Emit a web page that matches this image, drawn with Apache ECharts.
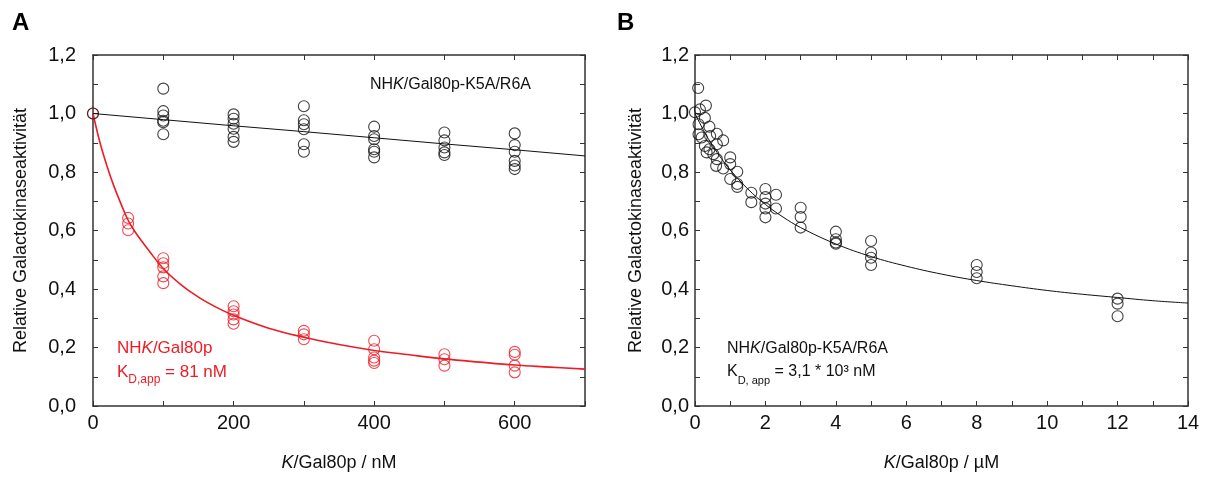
<!DOCTYPE html>
<html>
<head>
<meta charset="utf-8">
<script src="https://cdn.jsdelivr.net/npm/echarts@6/dist/echarts.min.js"></script>
<style>
  html, body { margin: 0; padding: 0; background: #fff; }
  #chart { width: 1207px; height: 477px; }
</style>
</head>
<body>
<div id="chart"></div>
<script>
// Panel A: NHK/Gal80p (red) and NHK/Gal80p-K5A/R6A (black), x in nM
var wtA_x = [0, 50, 50, 50, 100, 100, 100, 100, 100, 200, 200, 200, 200, 200,
             300, 300, 300, 400, 400, 400, 400, 400, 500, 500, 500, 600, 600, 600, 600];
var wtA_y = [1.0, 0.643, 0.624, 0.601, 0.505, 0.488, 0.474, 0.443, 0.420, 0.341, 0.324, 0.313, 0.296, 0.281,
             0.257, 0.245, 0.228, 0.223, 0.194, 0.166, 0.155, 0.147, 0.177, 0.160, 0.138, 0.185, 0.175, 0.138, 0.115];
var mutA_x = [0, 100, 100, 100, 100, 100, 100, 200, 200, 200, 200, 200, 200,
              300, 300, 300, 300, 300, 300, 400, 400, 400, 400, 400, 400,
              500, 500, 500, 500, 500, 600, 600, 600, 600, 600, 600];
var mutA_y = [1.0, 1.085, 1.008, 0.993, 0.975, 0.970, 0.929, 0.997, 0.982, 0.965, 0.948, 0.920, 0.903,
              1.025, 0.977, 0.963, 0.946, 0.895, 0.869, 0.955, 0.923, 0.912, 0.878, 0.869, 0.850,
              0.935, 0.908, 0.884, 0.867, 0.858, 0.932, 0.892, 0.869, 0.838, 0.822, 0.810];
// fit curves
var fitWtA_x = [0, 10, 20, 30, 40, 50, 60, 80, 100, 125, 150, 175, 200, 250, 300, 350, 400, 450, 500, 550, 600, 650, 700];
var fitWtA_y = [1.0, 0.90, 0.82, 0.75, 0.69, 0.635, 0.595, 0.53, 0.47, 0.415, 0.372, 0.338, 0.31, 0.266, 0.235, 0.21, 0.19, 0.175, 0.161, 0.15, 0.14, 0.133, 0.126];
var fitMutA_x = [0, 100, 200, 300, 400, 500, 600, 700];
var fitMutA_y = [1.0, 0.979, 0.958, 0.938, 0.917, 0.896, 0.876, 0.855];

// Panel B: NHK/Gal80p-K5A/R6A, x in µM
var mutB_x = [0.09, 0, 0.14, 0.31, 0.28, 0.1, 0.41, 0.1, 0.19, 0.43, 0.62, 0.80, 0.28, 0.41, 0.33, 0.52,
              0.62, 0.62, 0.60, 0.80, 1.0, 1.0, 1.2, 1.0, 1.2, 1.2, 1.6, 1.6,
              2.0, 2.0, 2.0, 2.0, 2.0, 2.3, 2.3, 3.0, 3.0, 3.0,
              4.0, 4.0, 4.0, 4.0, 5.0, 5.0, 5.0, 5.0, 8.0, 8.0, 8.0, 12.0, 12.0, 12.0];
var mutB_y = [1.087, 1.004, 1.014, 1.027, 0.985, 0.963, 0.955, 0.929, 0.918, 0.923, 0.931, 0.908, 0.889, 0.878, 0.867, 0.861,
              0.895, 0.844, 0.821, 0.812, 0.850, 0.827, 0.801, 0.776, 0.759, 0.749, 0.729, 0.697,
              0.742, 0.714, 0.692, 0.675, 0.645, 0.722, 0.675, 0.678, 0.646, 0.610,
              0.596, 0.570, 0.559, 0.555, 0.564, 0.525, 0.507, 0.482, 0.482, 0.458, 0.437, 0.367, 0.350, 0.307];
var fitB_x = [0, 0.25, 0.5, 0.75, 1, 1.5, 2, 2.5, 3, 4, 5, 6, 7, 8, 9, 10, 11, 12, 13, 14];
var fitB_y = [1.0, 0.941, 0.890, 0.846, 0.807, 0.742, 0.689, 0.646, 0.610, 0.554, 0.511, 0.478, 0.451, 0.429, 0.411, 0.395, 0.382, 0.371, 0.360, 0.352];

var yTicks = [0, 0.2, 0.4, 0.6, 0.8, 1.0, 1.2];

var FONT = '"Liberation Sans", Arial, sans-serif';
var RED = '#ee1c25';
var AX = '#333';

function pairs(xs, ys) {
  return xs.map(function (x, i) { return [x, ys[i]]; });
}

function yLabel(v) {
  var r = Math.round(v * 10) / 10;
  return yTicks.some(function (t) { return Math.abs(t - r) < 1e-6; }) ? r.toFixed(1).replace('.', ',') : '';
}

function baseAxis(extra) {
  var ax = {
    type: 'value',
    axisLine: { show: true, onZero: false, lineStyle: { color: AX, width: 1.5 } },
    axisTick: { show: true, inside: true, length: 5, lineStyle: { color: AX, width: 1 } },
    splitLine: { show: false },
    axisLabel: { show: true, color: '#111', fontSize: 20, fontFamily: FONT, margin: 7 }
  };
  for (var k in extra) ax[k] = extra[k];
  return ax;
}

var titleRich = {
  i: { fontStyle: 'italic', fontSize: 18, fontFamily: FONT, color: '#111' },
  n: { fontSize: 18, fontFamily: FONT, color: '#111' }
};

var chart = echarts.init(document.getElementById('chart'), null, { renderer: 'canvas' });

var mk = function (color) {
  return { color: 'rgba(0,0,0,0)', borderColor: color, borderWidth: 1.1 };
};

chart.setOption({
  animation: false,
  backgroundColor: '#fff',
  grid: [
    { left: 93, top: 55, width: 492, height: 354 },
    { left: 695, top: 55, width: 493, height: 353 }
  ],
  xAxis: [
    baseAxis({ gridIndex: 0, min: 0, max: 700, interval: 100, position: 'bottom',
      axisLabel: { color: '#111', fontSize: 20, fontFamily: FONT, margin: 7,
        formatter: function (v) { return v % 200 === 0 ? String(v) : ''; } },
      name: '{i|K}{n|/Gal80p / nM}', nameLocation: 'middle', nameGap: 48,
      nameTextStyle: { rich: titleRich } }),
    baseAxis({ gridIndex: 0, min: 0, max: 700, interval: 100, position: 'top',
      axisLabel: { show: false } }),
    baseAxis({ gridIndex: 1, min: 0, max: 14, interval: 1, position: 'bottom',
      axisLabel: { color: '#111', fontSize: 20, fontFamily: FONT, margin: 7,
        formatter: function (v) { return v % 2 === 0 ? String(v) : ''; } },
      name: '{i|K}{n|/Gal80p / µM}', nameLocation: 'middle', nameGap: 48,
      nameTextStyle: { rich: titleRich } }),
    baseAxis({ gridIndex: 1, min: 0, max: 14, interval: 1, position: 'top',
      axisLabel: { show: false } })
  ],
  yAxis: [
    baseAxis({ gridIndex: 0, min: 0, max: 1.2, interval: 0.1, position: 'left',
      axisLabel: { color: '#111', fontSize: 20, fontFamily: FONT, margin: 17, formatter: yLabel },
      name: 'Relative Galactokinaseaktivität', nameLocation: 'middle', nameGap: 63,
      nameTextStyle: { fontSize: 18, fontFamily: FONT, color: '#111' } }),
    baseAxis({ gridIndex: 0, min: 0, max: 1.2, interval: 0.1, position: 'right',
      axisLabel: { show: false } }),
    baseAxis({ gridIndex: 1, min: 0, max: 1.2, interval: 0.1, position: 'left',
      axisLabel: { color: '#111', fontSize: 20, fontFamily: FONT, margin: 6, formatter: yLabel },
      name: 'Relative Galactokinaseaktivität', nameLocation: 'middle', nameGap: 50,
      nameTextStyle: { fontSize: 18, fontFamily: FONT, color: '#111' } }),
    baseAxis({ gridIndex: 1, min: 0, max: 1.2, interval: 0.1, position: 'right',
      axisLabel: { show: false } })
  ],
  series: [
    { type: 'line', xAxisIndex: 0, yAxisIndex: 0, data: pairs(fitWtA_x, fitWtA_y),
      smooth: 0.4, showSymbol: false, lineStyle: { color: RED, width: 1.6 }, z: 2 },
    { type: 'line', xAxisIndex: 0, yAxisIndex: 0, data: pairs(fitMutA_x, fitMutA_y),
      showSymbol: false, lineStyle: { color: '#111', width: 1 }, z: 2 },
    { type: 'scatter', xAxisIndex: 0, yAxisIndex: 0, data: pairs(wtA_x, wtA_y),
      symbol: 'circle', symbolSize: 11, itemStyle: mk(RED), z: 3 },
    { type: 'scatter', xAxisIndex: 0, yAxisIndex: 0, data: pairs(mutA_x, mutA_y),
      symbol: 'circle', symbolSize: 11, itemStyle: mk('#111'), z: 4 },
    { type: 'line', xAxisIndex: 2, yAxisIndex: 2, data: pairs(fitB_x, fitB_y),
      smooth: 0.4, showSymbol: false, lineStyle: { color: '#111', width: 1 }, z: 2 },
    { type: 'scatter', xAxisIndex: 2, yAxisIndex: 2, data: pairs(mutB_x, mutB_y),
      symbol: 'circle', symbolSize: 11, itemStyle: mk('#111'), z: 3 }
  ],
  graphic: [
    { type: 'text', left: 12, top: 11, style: { text: 'A', fontSize: 24, fontWeight: 'bold', fontFamily: FONT, fill: '#000' } },
    { type: 'text', left: 617, top: 11, style: { text: 'B', fontSize: 24, fontWeight: 'bold', fontFamily: FONT, fill: '#000' } },
    { type: 'text', left: 370, top: 77, style: {
        text: '{n|NH}{i|K}{n|/Gal80p-K5A/R6A}',
        rich: {
          n: { fontSize: 16, fontFamily: FONT, fill: '#111' },
          i: { fontSize: 16, fontFamily: FONT, fontStyle: 'italic', fill: '#111' }
        } } },
    { type: 'text', left: 117, top: 340, style: {
        text: '{n|NH}{i|K}{n|/Gal80p}',
        rich: {
          n: { fontSize: 17, fontFamily: FONT, fill: RED },
          i: { fontSize: 17, fontFamily: FONT, fontStyle: 'italic', fill: RED }
        } } },
    { type: 'text', left: 117, top: 364, style: {
        text: '{n|K}{s|D,app}{n| = 81 nM}',
        rich: {
          n: { fontSize: 17, fontFamily: FONT, fill: RED, verticalAlign: 'top', lineHeight: 22 },
          s: { fontSize: 12, fontFamily: FONT, fill: RED, verticalAlign: 'bottom', lineHeight: 22, padding: [8, 0, 0, 0] }
        } } },
    { type: 'text', left: 727, top: 341, style: {
        text: '{n|NH}{i|K}{n|/Gal80p-K5A/R6A}',
        rich: {
          n: { fontSize: 16, fontFamily: FONT, fill: '#111' },
          i: { fontSize: 16, fontFamily: FONT, fontStyle: 'italic', fill: '#111' }
        } } },
    { type: 'text', left: 727, top: 364, style: {
        text: '{n|K}{s|D, app}{n| = 3,1 * 10³ nM}',
        rich: {
          n: { fontSize: 16, fontFamily: FONT, fill: '#111', verticalAlign: 'top', lineHeight: 22 },
          s: { fontSize: 11, fontFamily: FONT, fill: '#111', verticalAlign: 'bottom', lineHeight: 22, padding: [8, 0, 0, 0] }
        } } }
  ]
});
</script>
</body>
</html>
